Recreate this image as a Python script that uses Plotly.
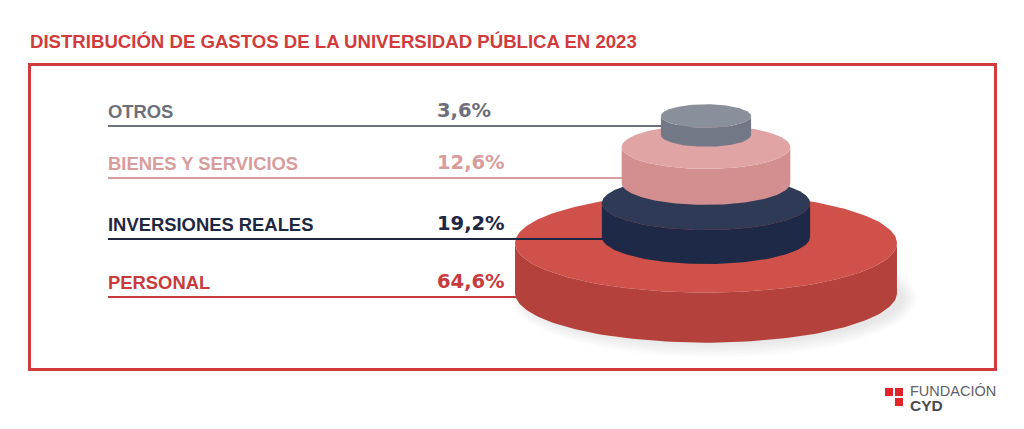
import numpy as np
import plotly.graph_objects as go

title = "DISTRIBUCIÓN DE GASTOS DE LA UNIVERSIDAD PÚBLICA EN 2023"
categories = ["OTROS", "BIENES Y SERVICIOS", "INVERSIONES REALES", "PERSONAL"]
shares = [3.6, 12.6, 19.2, 64.6]

# look of each layer (same order as categories)
text_colors = ["#6d707a", "#d99c9c", "#1e2742", "#c93a3c"]
top_colors = ["#8a8f9c", "#e0a4a4", "#2f3a56", "#cf514a"]
side_colors = ["#737886", "#d38f8f", "#1d2946", "#b4413b"]
row_y = [126, 178, 239, 297]      # leader line height of each row
base_y = [135, 183, 237, 293]     # bottom centre of each cylinder
heights = [19, 36, 34, 50]
cx = 706
px_per_sqrt = 23.76               # radius = k * sqrt(share), area ~ share
tilt = 0.26
red = "#d23b3b"


def ellipse(xc, yc, a, b, t):
    return xc + a * np.cos(t), yc + b * np.sin(t)


fig = go.Figure()
t_full = np.linspace(0, 2 * np.pi, 241)
t_front = np.linspace(0, np.pi, 121)

for i in reversed(range(len(categories))):
    a = px_per_sqrt * np.sqrt(shares[i])
    b = tilt * a
    yb = base_y[i]
    yt = yb - heights[i]

    # leader line, hidden under its own cylinder
    fig.add_trace(go.Scatter(x=[108, cx], y=[row_y[i], row_y[i]], mode="lines",
                             line=dict(color=text_colors[i], width=2)))

    if i == len(categories) - 1:
        # soft shadow under the base
        for k in range(8):
            sx, sy = ellipse(cx + 8, yb + 5, a + 12 - 2 * k, b + 10 - 2 * k, t_full)
            fig.add_trace(go.Scatter(x=sx, y=sy, mode="lines", fill="toself",
                                     fillcolor="rgba(80,80,90,0.02)",
                                     line=dict(width=0)))

    bx, by = ellipse(cx, yb, a, b, t_front[::-1])
    tx, ty = ellipse(cx, yt, a, b, t_front)
    fig.add_trace(go.Scatter(x=np.r_[bx, tx], y=np.r_[by, ty], mode="lines",
                             fill="toself", fillcolor=side_colors[i],
                             line=dict(width=0)))
    ex, ey = ellipse(cx, yt, a, b, t_full)
    fig.add_trace(go.Scatter(x=ex, y=ey, mode="lines", fill="toself",
                             fillcolor=top_colors[i], line=dict(width=0)))

annotations = [dict(x=28, y=41, text=f"<b>{title}</b>", xanchor="left", yanchor="middle",
                    showarrow=False, font=dict(size=18.6, color=red))]
for i, cat in enumerate(categories):
    annotations.append(dict(x=106, y=row_y[i] - 15, text=f"<b>{cat}</b>", xanchor="left",
                            yanchor="middle", showarrow=False,
                            font=dict(size=18.4, color=text_colors[i])))
    pct = f"{shares[i]:.1f}".replace(".", ",") + "%"
    annotations.append(dict(x=435, y=row_y[i] - 16, text=f"<b>{pct}</b>", xanchor="left",
                            yanchor="middle", showarrow=False,
                            font=dict(size=19.5, color=text_colors[i],
                                      family="DejaVu Sans, sans-serif")))

annotations.append(dict(x=908, y=391, text="FUNDACIÓN", xanchor="left", yanchor="middle",
                        showarrow=False, font=dict(size=14.5, color="#5f6066")))
annotations.append(dict(x=908, y=405, text="<b>CYD</b>", xanchor="left", yanchor="middle",
                        showarrow=False, font=dict(size=15.5, color="#4a4b50")))

shapes = [dict(type="rect", x0=29.5, x1=995.5, y0=64.5, y1=369.5,
               line=dict(color=red, width=3), layer="below")]
for x0, y0 in [(885, 388), (895, 388), (895, 398)]:
    shapes.append(dict(type="rect", x0=x0, x1=x0 + 8, y0=y0, y1=y0 + 8,
                       fillcolor="#e1262b", line=dict(width=0)))

fig.update_layout(
    width=1024, height=429,
    margin=dict(l=0, r=0, t=0, b=0),
    paper_bgcolor="white", plot_bgcolor="white",
    showlegend=False, hovermode=False,
    font=dict(family="Liberation Sans, Arial, sans-serif"),
    xaxis=dict(range=[0, 1024], visible=False, fixedrange=True),
    yaxis=dict(range=[429, 0], visible=False, fixedrange=True),
    annotations=annotations, shapes=shapes,
)
fig.write_html("out.html", config={"displayModeBar": False},
               post_script="document.body.style.margin='0';")
